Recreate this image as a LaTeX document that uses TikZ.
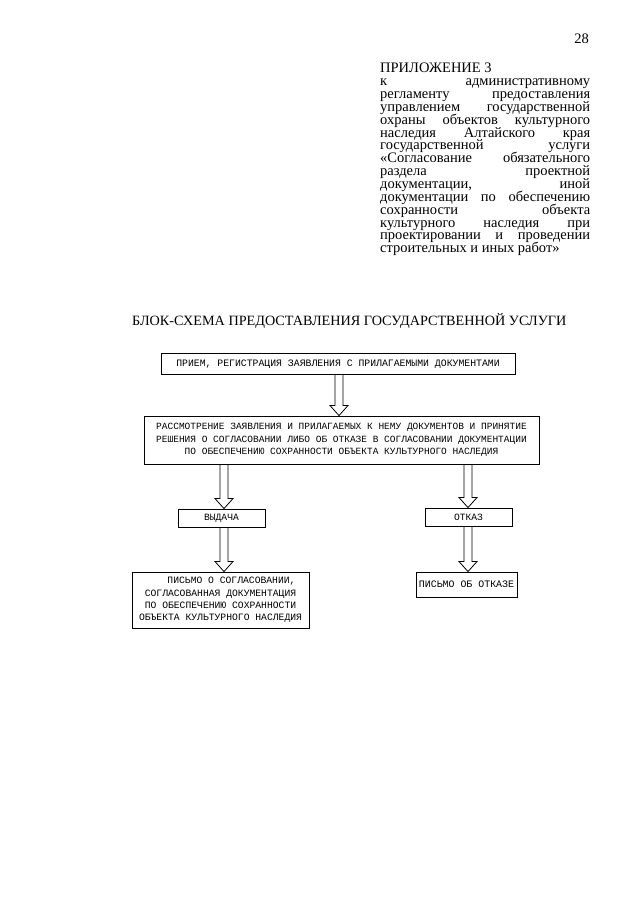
\documentclass[tikz,border=0pt]{standalone}
\usepackage{fontspec}
\setmainfont{Liberation Serif}
\newfontfamily\monof{Liberation Mono}
\usetikzlibrary{calc}
\newcommand\jl[1]{\makebox[210pt][s]{#1}}
\newcommand\monosize[1]{\monof\fontsize{#1}{12.4}\selectfont}
\newcommand\serifsize{\fontsize{14.5}{12.86}\selectfont\setlength{\lineskiplimit}{-100pt}}
\tikzset{
  x=1pt, y=-1pt,
  box/.style={draw, line width=0.9pt, inner sep=0pt, align=center,
    font=\monosize{9.6}},
  blockarrow/.style={draw, line width=0.8pt},
  serif/.style={inner sep=0pt, font=\serifsize}
}
\newcommand\blockarr[3]{%
  \draw[blockarrow] let \p1=(#2.south), \p2=(#3.north) in
    (#1pt-4pt,\y1) -- (#1pt-4pt,\y2+10pt) -- (#1pt-9pt,\y2+10pt) -- (#1pt,\y2)
    -- (#1pt+9pt,\y2+10pt) -- (#1pt+4pt,\y2+10pt) -- (#1pt+4pt,\y1);}
\begin{document}
\begin{tikzpicture}
\useasboundingbox[fill=white] (0,0) rectangle (640,905);

\node[serif, anchor=base east] (pg) at (589,43) {28};
\node[serif, anchor=north west, align=left] (hdr) at (380,63) {%
ПРИЛОЖЕНИЕ 3\\
\jl{к административному}\\
\jl{регламенту предоставления}\\
\jl{управлением государственной}\\
\jl{охраны объектов культурного}\\
\jl{наследия Алтайского края}\\
\jl{государственной услуги}\\
\jl{«Согласование обязательного}\\
\jl{раздела проектной}\\
\jl{документации, иной}\\
\jl{документации по обеспечению}\\
\jl{сохранности объекта}\\
\jl{культурного наследия при}\\
\jl{проектировании и проведении}\\
строительных и иных работ»};

\node[inner sep=0pt, anchor=base west, font=\fontsize{14.2}{14.2}\selectfont] (ttl) at (132,325)
  {БЛОК-СХЕМА ПРЕДОСТАВЛЕНИЯ ГОСУДАРСТВЕННОЙ УСЛУГИ};

\node[box, font=\monosize{9.8}, minimum width=354pt, minimum height=21pt] (b1) at (338,364)
  {ПРИЕМ, РЕГИСТРАЦИЯ ЗАЯВЛЕНИЯ С ПРИЛАГАЕМЫМИ ДОКУМЕНТАМИ};
\node[box, font=\monosize{9.5}, minimum width=395pt, minimum height=48pt] (b2) at (341.5,440)
  {РАССМОТРЕНИЕ ЗАЯВЛЕНИЯ И ПРИЛАГАЕМЫХ К НЕМУ ДОКУМЕНТОВ И ПРИНЯТИЕ\\
   РЕШЕНИЯ О СОГЛАСОВАНИИ ЛИБО ОБ ОТКАЗЕ В СОГЛАСОВАНИИ ДОКУМЕНТАЦИИ\\
   ПО ОБЕСПЕЧЕНИЮ СОХРАННОСТИ ОБЪЕКТА КУЛЬТУРНОГО НАСЛЕДИЯ};
\node[box, minimum width=87pt, minimum height=18pt] (vyd) at (221.5,518) {ВЫДАЧА};
\node[box, minimum width=87pt, minimum height=18pt] (otk) at (468.5,517) {ОТКАЗ};
\node[box, font=\monosize{9.7}, minimum width=177pt, minimum height=56pt] (sogl) at (220.5,600)
  {\hspace*{22pt}ПИСЬМО О СОГЛАСОВАНИИ,\\
   СОГЛАСОВАННАЯ ДОКУМЕНТАЦИЯ\\
   ПО ОБЕСПЕЧЕНИЮ СОХРАННОСТИ\\
   ОБЪЕКТА КУЛЬТУРНОГО НАСЛЕДИЯ};
\node[box, font=\monosize{9.9}, minimum width=101pt, minimum height=25pt] (otp) at (466.5,584.5)
  {ПИСЬМО ОБ ОТКАЗЕ};

\blockarr{339}{b1}{b2}
\blockarr{224}{b2}{vyd}
\blockarr{468}{b2}{otk}
\blockarr{224}{vyd}{sogl}
\blockarr{468}{otk}{otp}
\end{tikzpicture}
\end{document}
